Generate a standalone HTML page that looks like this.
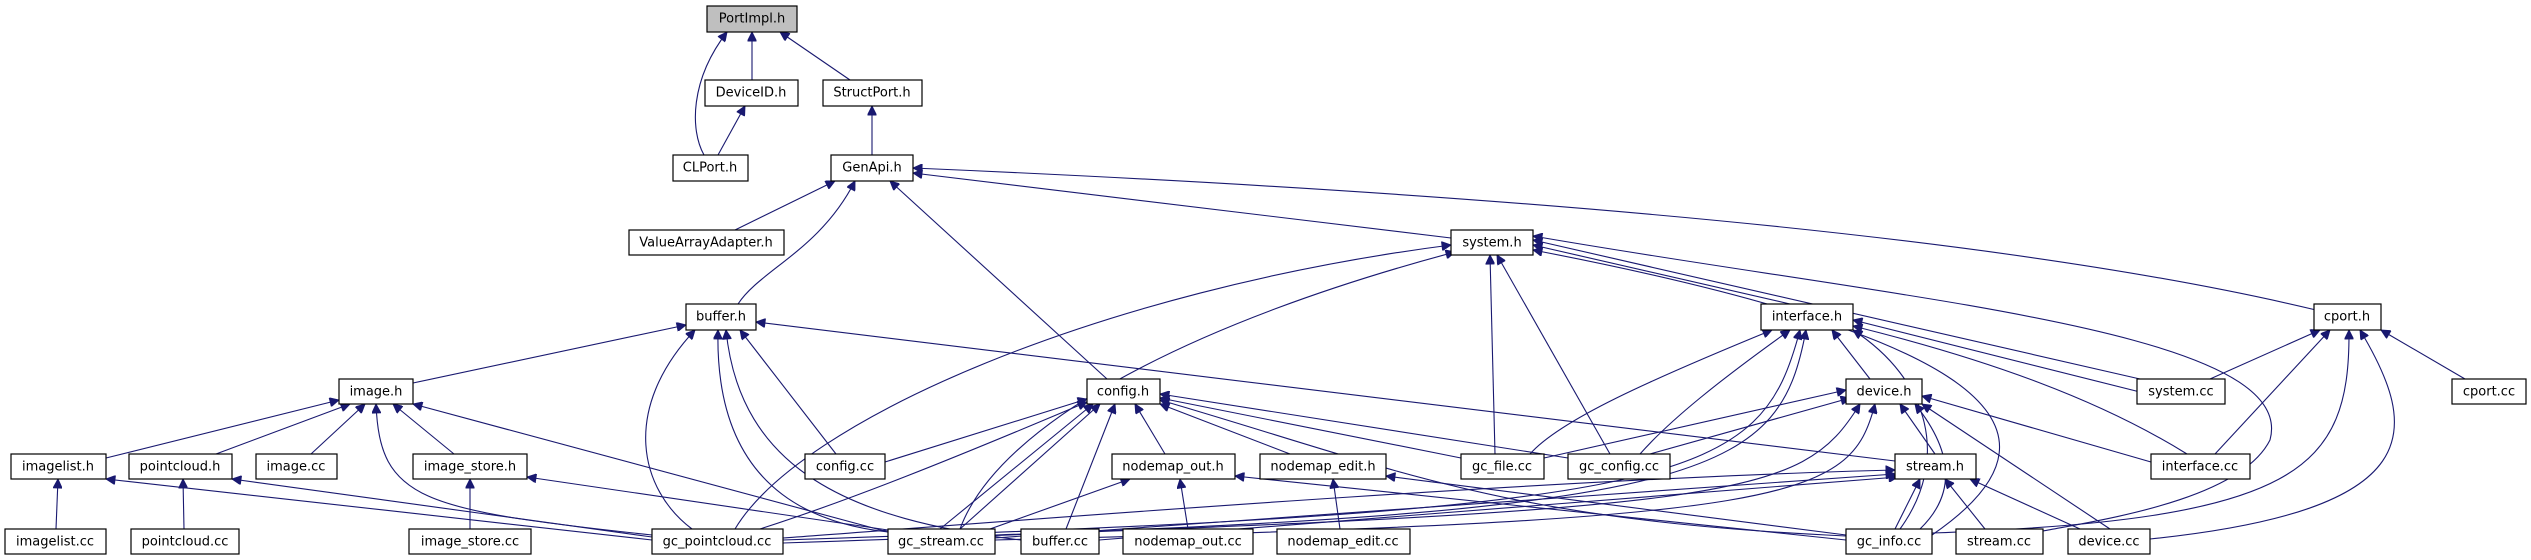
<!DOCTYPE html>
<html><head><meta charset="utf-8"><style>
html,body{margin:0;padding:0;background:#fff;}
svg{display:block}
text{font-family:"DejaVu Sans","Liberation Sans",sans-serif;font-size:13px;fill:#000;text-anchor:middle;dominant-baseline:central}
.n rect{fill:#fff;stroke:#000;stroke-width:1.2}
.e path{fill:none;stroke:#191970;stroke-width:1.1;marker-start:url(#a)}
</style></head><body>
<svg width="2531" height="560" viewBox="0 0 2531 560" xmlns="http://www.w3.org/2000/svg">
<defs><marker id="a" viewBox="0 0 10 10" refX="10" refY="5" markerWidth="11" markerHeight="9" markerUnits="userSpaceOnUse" orient="auto-start-reverse"><path d="M0,0 L10,5 L0,10 z" fill="#191970" stroke="#191970"/></marker></defs>
<g class="e">
<path d="M727,32 C690,80 690,130 704,155"/>
<path d="M752,32 L752,80"/>
<path d="M780,32 L850,80"/>
<path d="M745,106 L718,155"/>
<path d="M872,106 L872,155"/>
<path d="M835,181 L735,230"/>
<path d="M855,181 C820,250 760,270 738,304"/>
<path d="M890,181 L1107,379"/>
<path d="M913,173 L1451,238"/>
<path d="M913,168 Q1900,210 2316,310"/>
<path d="M1451,245 C1100,290 800,420 735,529"/>
<path d="M1455,252 C1200,320 1000,420 960,529"/>
<path d="M1533,245 L1790,304"/>
<path d="M1490,255 L1495,454"/>
<path d="M1497,255 L1610,454"/>
<path d="M1533,240 L2140,379"/>
<path d="M1533,250 C1950,330 2100,420 1932,535"/>
<path d="M1533,236 C1900,300 2300,330 2270,440 C2240,500 2100,520 2043,531"/>
<path d="M686,325 L413,383"/>
<path d="M695,330 C620,410 640,490 692,529"/>
<path d="M718,330 C715,460 780,520 888,532"/>
<path d="M726,330 C740,470 850,520 1021,540"/>
<path d="M740,330 L836,454"/>
<path d="M756,322 L1895,461"/>
<path d="M339,400 L106,458"/>
<path d="M350,404 L216,454"/>
<path d="M365,404 L311,454"/>
<path d="M393,404 L454,454"/>
<path d="M376,404 C380,500 420,510 652,535"/>
<path d="M413,404 L888,532"/>
<path d="M58,479 L56,529"/>
<path d="M106,479 L652,540"/>
<path d="M183,479 L184,529"/>
<path d="M232,479 L652,537"/>
<path d="M470,479 L470,529"/>
<path d="M527,477 L888,530"/>
<path d="M1087,399 L885,462"/>
<path d="M1087,402 C950,460 850,500 760,529"/>
<path d="M1100,404 L960,529"/>
<path d="M1093,404 L940,529"/>
<path d="M1115,404 L1066,529"/>
<path d="M1135,404 L1165,454"/>
<path d="M1160,404 L1290,454"/>
<path d="M1160,398 L1461,458"/>
<path d="M1160,394 L1568,458"/>
<path d="M1160,400 C1400,470 1500,520 1846,536"/>
<path d="M1772,330 C1650,380 1560,420 1530,454"/>
<path d="M1790,330 C1720,380 1670,420 1640,454"/>
<path d="M1800,330 C1760,480 1700,510 783,540"/>
<path d="M1806,330 C1780,470 1720,510 995,535"/>
<path d="M1832,330 L1870,379"/>
<path d="M1853,330 C1930,380 1950,460 1900,529"/>
<path d="M1853,320 L2140,392"/>
<path d="M1853,326 C1990,360 2100,400 2187,454"/>
<path d="M1846,390 L1544,458"/>
<path d="M1850,398 L1650,454"/>
<path d="M1860,404 C1800,500 1750,510 783,543"/>
<path d="M1875,404 C1850,500 1800,520 995,540"/>
<path d="M1900,404 L1935,454"/>
<path d="M1915,404 C1960,460 1950,500 1920,529"/>
<path d="M1922,404 L2110,529"/>
<path d="M1922,396 L2151,462"/>
<path d="M1895,470 C1500,480 900,530 783,538"/>
<path d="M1895,474 L995,538"/>
<path d="M1898,477 L1099,540"/>
<path d="M1920,479 L1895,529"/>
<path d="M1945,479 L1985,529"/>
<path d="M1970,479 L2080,529"/>
<path d="M1130,479 L990,529"/>
<path d="M1180,479 L1188,529"/>
<path d="M1235,476 L1846,540"/>
<path d="M1333,479 L1340,529"/>
<path d="M1386,476 L1846,535"/>
<path d="M2320,330 L2210,379"/>
<path d="M2330,330 L2215,454"/>
<path d="M2349,330 C2350,470 2300,520 1932,533"/>
<path d="M2360,330 C2420,430 2430,510 2150,539"/>
<path d="M2381,330 L2465,379"/>
</g>
<g class="n">
<rect x="707" y="6" width="90" height="26" style="fill:#bfbfbf"/><text x="752" y="19">PortImpl.h</text>
<rect x="705" y="80" width="93" height="26"/><text x="751" y="93">DeviceID.h</text>
<rect x="823" y="80" width="99" height="26"/><text x="872" y="93">StructPort.h</text>
<rect x="673" y="155" width="75" height="26"/><text x="710" y="168">CLPort.h</text>
<rect x="831" y="155" width="82" height="26"/><text x="872" y="168">GenApi.h</text>
<rect x="629" y="230" width="155" height="25"/><text x="706" y="243">ValueArrayAdapter.h</text>
<rect x="1451" y="230" width="82" height="25"/><text x="1492" y="243">system.h</text>
<rect x="686" y="304" width="70" height="26"/><text x="721" y="317">buffer.h</text>
<rect x="1761" y="304" width="92" height="26"/><text x="1807" y="317">interface.h</text>
<rect x="2314" y="304" width="67" height="26"/><text x="2347" y="317">cport.h</text>
<rect x="339" y="379" width="74" height="25"/><text x="376" y="392">image.h</text>
<rect x="1087" y="379" width="73" height="25"/><text x="1123" y="392">config.h</text>
<rect x="1846" y="379" width="76" height="25"/><text x="1884" y="392">device.h</text>
<rect x="2137" y="379" width="88" height="25"/><text x="2181" y="392">system.cc</text>
<rect x="2452" y="379" width="74" height="25"/><text x="2489" y="392">cport.cc</text>
<rect x="11" y="454" width="95" height="25"/><text x="58" y="467">imagelist.h</text>
<rect x="129" y="454" width="103" height="25"/><text x="180" y="467">pointcloud.h</text>
<rect x="256" y="454" width="81" height="25"/><text x="296" y="467">image.cc</text>
<rect x="413" y="454" width="114" height="25"/><text x="470" y="467">image_store.h</text>
<rect x="805" y="454" width="80" height="25"/><text x="845" y="467">config.cc</text>
<rect x="1112" y="454" width="123" height="25"/><text x="1173" y="467">nodemap_out.h</text>
<rect x="1260" y="454" width="126" height="25"/><text x="1323" y="467">nodemap_edit.h</text>
<rect x="1461" y="454" width="83" height="25"/><text x="1502" y="467">gc_file.cc</text>
<rect x="1568" y="454" width="102" height="25"/><text x="1619" y="467">gc_config.cc</text>
<rect x="1895" y="454" width="81" height="25"/><text x="1935" y="467">stream.h</text>
<rect x="2151" y="454" width="99" height="25"/><text x="2200" y="467">interface.cc</text>
<rect x="5" y="529" width="101" height="25"/><text x="55" y="542">imagelist.cc</text>
<rect x="131" y="529" width="108" height="25"/><text x="185" y="542">pointcloud.cc</text>
<rect x="409" y="529" width="122" height="25"/><text x="470" y="542">image_store.cc</text>
<rect x="652" y="529" width="131" height="25"/><text x="717" y="542">gc_pointcloud.cc</text>
<rect x="888" y="529" width="107" height="25"/><text x="941" y="542">gc_stream.cc</text>
<rect x="1021" y="529" width="78" height="25"/><text x="1060" y="542">buffer.cc</text>
<rect x="1123" y="529" width="130" height="25"/><text x="1188" y="542">nodemap_out.cc</text>
<rect x="1277" y="529" width="133" height="25"/><text x="1343" y="542">nodemap_edit.cc</text>
<rect x="1846" y="529" width="86" height="25"/><text x="1889" y="542">gc_info.cc</text>
<rect x="1956" y="529" width="87" height="25"/><text x="1999" y="542">stream.cc</text>
<rect x="2068" y="529" width="82" height="25"/><text x="2109" y="542">device.cc</text>
</g>
</svg>
</body></html>
